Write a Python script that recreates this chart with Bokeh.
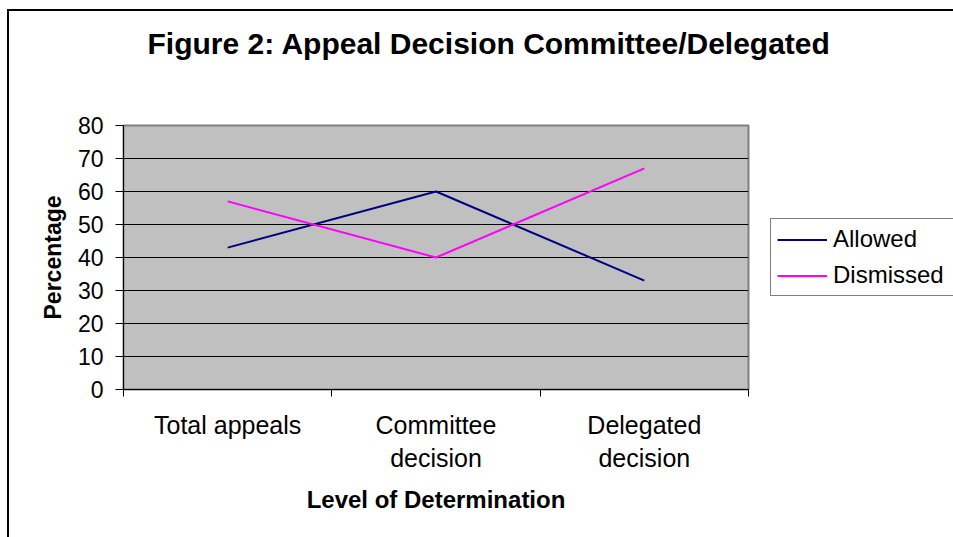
from bokeh.plotting import figure
from bokeh.models import Range1d, FixedTicker, Legend, LegendItem
from bokeh.embed import file_html
from bokeh.resources import INLINE

categories = ["Total appeals", "Committee\ndecision", "Delegated\ndecision"]
allowed = [43, 60, 33]
dismissed = [57, 40, 67]
y_ticks = [0, 10, 20, 30, 40, 50, 60, 70, 80]
title_text = "Figure 2: Appeal Decision Committee/Delegated"

xs = [i + 0.5 for i in range(len(categories))]
bounds = list(range(len(categories) + 1))

p = figure(frame_width=625, frame_height=264, output_backend="svg", toolbar_location=None,
           x_range=Range1d(0, len(categories)), y_range=Range1d(0, 80),
           min_border_left=114, min_border_top=114, min_border_right=205, min_border_bottom=148,
           styles={"border-left": "2px solid black", "border-top": "2px solid black",
                   "margin-top": "9px", "margin-left": "7px"})

p.background_fill_color = "#C0C0C0"
p.border_fill_color = "white"
p.outline_line_color = "#808080"
p.outline_line_width = 2

# second (blank) line pushes the title up inside the above panel
p.title.text = title_text + "\n\u00a0"
p.title.text_font = "Liberation Sans"
p.title.text_font_style = "bold"
p.title.text_font_size = "30px"
p.title.text_color = "black"
p.title.text_line_height = 1.93
p.title.align = "left"
p.title.vertical_align = "top"
p.title.offset = 24
p.title.standoff = 0

p.xgrid.grid_line_color = None
p.ygrid.grid_line_color = "black"
p.ygrid.grid_line_width = 1
p.ygrid.ticker = FixedTicker(ticks=y_ticks)

xa = p.xaxis[0]
xa.ticker = FixedTicker(ticks=xs, minor_ticks=bounds)
xa.major_label_overrides = {x: c for x, c in zip(xs, categories)}
xa.major_tick_out = 0
xa.major_tick_in = 0
xa.minor_tick_out = 7
xa.minor_tick_in = 0
xa.minor_tick_line_color = "black"
xa.axis_line_color = "black"
xa.major_label_standoff = 14
xa.major_label_text_font = "Liberation Sans"
xa.major_label_text_font_size = "25px"
xa.major_label_text_color = "black"
xa.axis_label = "Level of Determination"
xa.axis_label_text_font = "Liberation Sans"
xa.axis_label_text_font_style = "bold"
xa.axis_label_text_font_size = "24px"
xa.axis_label_text_color = "black"
xa.axis_label_standoff = 11

ya = p.yaxis[0]
ya.ticker = FixedTicker(ticks=y_ticks)
ya.major_tick_out = 8
ya.major_tick_in = 0
ya.minor_tick_line_color = None
ya.axis_line_color = "black"
ya.major_tick_line_color = "black"
ya.major_label_standoff = 12
ya.major_label_text_font = "Liberation Sans"
ya.major_label_text_font_size = "23px"
ya.major_label_text_color = "black"
ya.axis_label = "Percentage"
ya.axis_label_text_font = "Liberation Sans"
ya.axis_label_text_font_style = "bold"
ya.axis_label_text_font_size = "23px"
ya.axis_label_text_color = "black"
ya.axis_label_standoff = 9

r1 = p.line(xs, allowed, line_color="#000080", line_width=2)
r2 = p.line(xs, dismissed, line_color="#FF00FF", line_width=2)

legend = Legend(items=[LegendItem(label="Allowed", renderers=[r1]),
                       LegendItem(label="Dismissed", renderers=[r2])],
                location="center_left", orientation="vertical",
                glyph_width=50, glyph_height=27, label_height=27, label_standoff=6,
                label_width=125, padding=6, spacing=8, margin=22,
                label_text_font="Liberation Sans", label_text_font_size="24px",
                label_text_color="black",
                border_line_color="black", border_line_width=1,
                background_fill_color="white", background_fill_alpha=1)
p.add_layout(legend, "right")

open("out.html", "w").write(file_html(p, INLINE))
